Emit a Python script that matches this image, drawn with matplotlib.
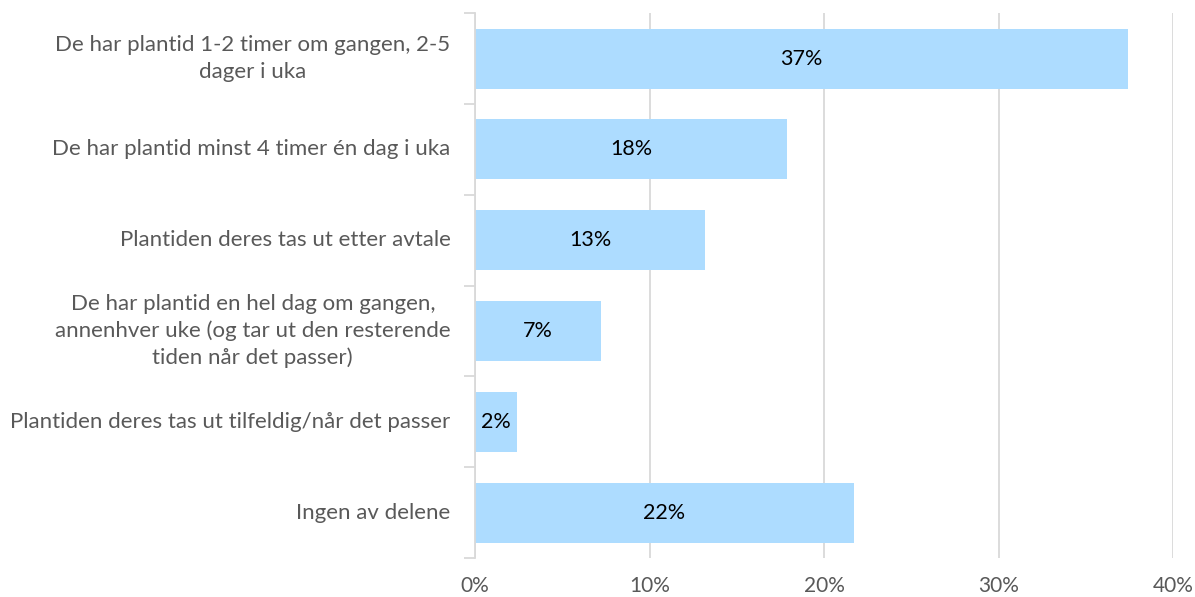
import matplotlib
matplotlib.use("Agg")
import matplotlib.pyplot as plt
from matplotlib.ticker import FuncFormatter

categories = [
    "De har plantid 1-2 timer om gangen, 2-5\ndager i uka",
    "De har plantid minst 4 timer én dag i uka",
    "Plantiden deres tas ut etter avtale",
    "De har plantid en hel dag om gangen,\nannenhver uke (og tar ut den resterende\ntiden når det passer)",
    "Plantiden deres tas ut tilfeldig/når det passer",
    "Ingen av delene",
]
values = [37.4, 17.9, 13.2, 7.2, 2.4, 21.7]
value_labels = ["37%", "18%", "13%", "7%", "2%", "22%"]
xticks = [0, 10, 20, 30, 40]

plt.rcParams['font.family'] = ['Lato', 'DejaVu Sans']

fig = plt.figure(figsize=(11.95, 5.97), dpi=100)
ax = fig.add_axes([0.3975, 0.0653, 0.9816 - 0.3975, 0.978 - 0.0653])

n = len(categories)
ypos = list(range(n))
ax.barh(ypos, values, height=0.66, color="#ADDCFF", zorder=2)
for y, v, lab in zip(ypos, values, value_labels):
    ax.text(v / 2, y, lab, ha="center", va="center", fontsize=15.5, color="black", zorder=3)

ax.set_xlim(0, 40)
ax.set_ylim(n - 0.5, -0.5)
ax.set_xticks(xticks)
ax.xaxis.set_major_formatter(FuncFormatter(lambda x, p: f"{int(x)}%"))
ax.grid(axis="x", color="#D9D9D9", linewidth=1.3, zorder=0)
ax.tick_params(axis="x", length=0, labelsize=15, labelcolor="#595959", pad=13)

# category boundary ticks on y axis
ax.set_yticks([i - 0.5 for i in range(n + 1)])
ax.set_yticklabels([])
ax.tick_params(axis="y", length=8, width=1.3, color="#D9D9D9")
for y, c in zip(ypos, categories):
    ax.text(-0.035, y, c, transform=ax.get_yaxis_transform(), ha="right", va="center",
            multialignment="center", fontsize=16, color="#595959", linespacing=1.4)

for s in ["top", "right", "bottom"]:
    ax.spines[s].set_visible(False)
ax.spines["left"].set_color("#D9D9D9")
ax.spines["left"].set_linewidth(1.3)

fig.savefig("out.png", dpi=100)
